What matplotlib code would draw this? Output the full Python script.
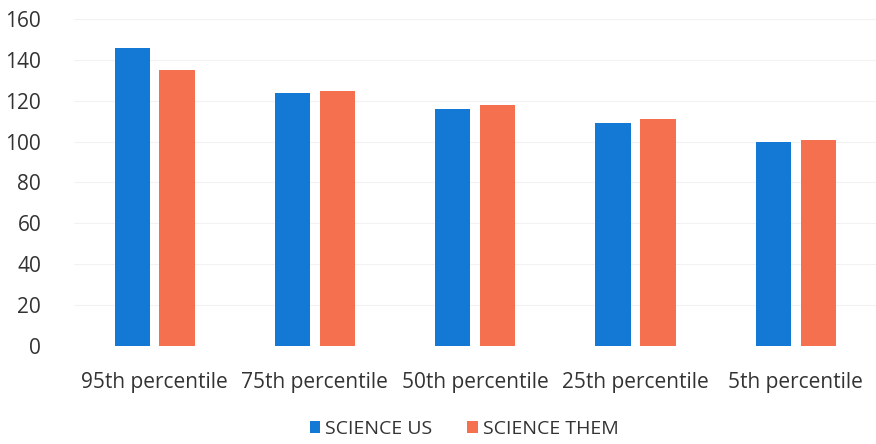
import numpy as np
import matplotlib.pyplot as plt

# categorias e valores
categorias = ['95th percentile', '75th percentile', '50th percentile', '25th percentile', '5th percentile']
science_us = [146, 124, 116, 109, 100]
science_them = [135, 125, 118, 111, 101]

plt.rcParams['font.family'] = ['Open Sans', 'DejaVu Sans']

fig = plt.figure(figsize=(8.76, 4.44), dpi=100)
ax = fig.add_axes([0.085, 0.221, 0.915, 0.736])

x = np.arange(len(categorias))
w = 0.22
ax.bar(x - 0.14, science_us, w, color='#1479d4', label='SCIENCE US', zorder=2)
ax.bar(x + 0.14, science_them, w, color='#f4704f', label='SCIENCE THEM', zorder=2)

ax.set_ylim(0, 160)
ax.set_xlim(-0.5, len(categorias) - 0.5)
ax.set_yticks(range(0, 161, 20))
ax.set_xticks(x)
ax.set_xticklabels(categorias)
ax.yaxis.grid(True, color='#f2f2f2', linewidth=0.8, zorder=0)
for s in ax.spines.values():
    s.set_visible(False)
ax.tick_params(axis='both', length=0, labelsize=15, colors='#333333')
ax.tick_params(axis='y', pad=24)
ax.tick_params(axis='x', pad=19)

fig.legend(loc='lower center', bbox_to_anchor=(0.53, -0.025), ncol=2, frameon=False,
           fontsize=14, handlelength=0.55, handleheight=0.55, handletextpad=0.25,
           columnspacing=1.8, labelcolor='#333333')

fig.savefig('out.png', dpi=100, facecolor='white')
